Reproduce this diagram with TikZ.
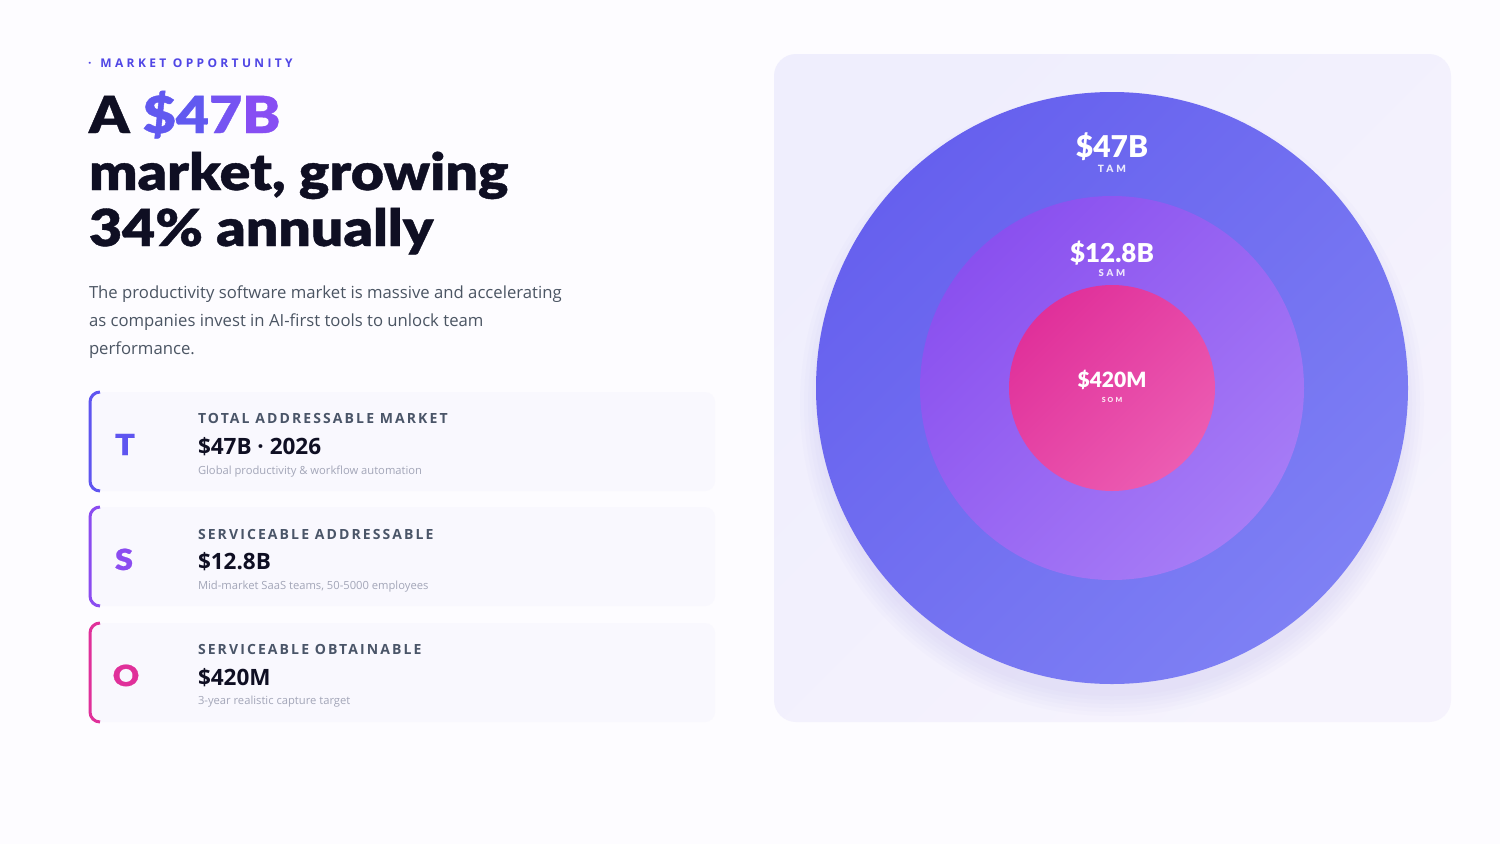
\documentclass[tikz,border=0pt]{standalone}
\usepackage{fontspec}
\usepackage{tikz}
\setmainfont{Open Sans}
\newfontfamily\heavyfont{Lato Black}
\newfontfamily\headfont{Lato Black}[FakeStretch=1.12,FakeBold=0.8]
\newfontfamily\spacedfont{Open Sans}[LetterSpace=15]
\newfontfamily\eyebrowfont{Open Sans}[LetterSpace=28]
\newfontfamily\tagfont{Lato Black}[LetterSpace=30]
\definecolor{pagebg}{HTML}{FDFCFF}
\definecolor{accent}{HTML}{5046E5}
\definecolor{ink}{HTML}{0F0F23}
\definecolor{paragray}{HTML}{4B5563}
\definecolor{slate}{HTML}{4A5568}
\definecolor{notegray}{HTML}{A3A6B8}
\definecolor{cardbg}{HTML}{F9F8FE}
\definecolor{panelA}{HTML}{EFEEFD}
\definecolor{panelB}{HTML}{F6F3FD}
\definecolor{glow}{HTML}{B9B0F5}
\definecolor{tamA}{HTML}{6660EE}
\definecolor{tamB}{HTML}{7E80F4}
\definecolor{samA}{HTML}{8A50EF}
\definecolor{samB}{HTML}{A67CF6}
\definecolor{somA}{HTML}{E0309A}
\definecolor{somB}{HTML}{EC5CB2}
\definecolor{tcol}{HTML}{5F55F0}
\definecolor{scol}{HTML}{8B4CF0}
\definecolor{ocol}{HTML}{E0309A}
\newcommand{\cardwidth}{625}

\begin{document}
\begin{tikzpicture}[x=1pt,y=-1pt,
  every node/.style={inner sep=0pt,outer sep=0pt},
  eyebrow/.style={anchor=base west,text=accent,font=\eyebrowfont\bfseries\fontsize{12}{12}\selectfont},
  headline/.style={anchor=base west,text=ink,font=\headfont\fontsize{51}{56}\selectfont},
  para/.style={anchor=base west,text=paragray,font=\fontsize{16.7}{28}\selectfont},
  card/.style={anchor=north west,fill=cardbg,rounded corners=10pt,minimum width=\cardwidth pt,minimum height=99pt},
  cardletter/.style={anchor=base,font=\headfont\fontsize{29}{30}\selectfont},
  cardtitle/.style={anchor=base west,text=slate,font=\spacedfont\bfseries\fontsize{14}{14}\selectfont},
  cardvalue/.style={anchor=base west,text=ink,font=\bfseries\fontsize{22.5}{22}\selectfont},
  cardnote/.style={anchor=base west,text=notegray,font=\fontsize{11.2}{12}\selectfont},
  ring/.style={circle,minimum size=#1},
  ringval/.style={anchor=base,text=white,font=\heavyfont\fontsize{#1}{#1}\selectfont},
  ringtag/.style={anchor=base,text=white,text opacity=0.85,font=\tagfont\fontsize{#1}{#1}\selectfont}]
\useasboundingbox (0,0) rectangle (1500,844);
\fill[pagebg] (0,0) rectangle (1500,844);

\node[eyebrow] (kicker) at (88,67) {·\hspace{9pt}MARKET OPPORTUNITY};
\node[headline] (head1) at (89,133) {A \textcolor[HTML]{6159F0}{\$4}\textcolor[HTML]{7553F2}{7}\textcolor[HTML]{874EF3}{B}};
\node[headline] (head2) at (89,190) {market, growing};
\node[headline] (head3) at (89,246) {34\% annually};
\node[para] (para1) at (89,298) {The productivity software market is massive and accelerating};
\node[para] (para2) at (89,326) {as companies invest in AI-first tools to unlock team};
\node[para] (para3) at (89,354) {performance.};

\node[card] (tcard) at (90,392) {};
\node[card] (scard) at (90,507) {};
\node[card] (ocard) at (90,623) {};
\draw[tcol,line width=3pt] ([xshift=10pt]tcard.north west) arc[start angle=90,end angle=180,radius=10pt] -- ([yshift=10pt]tcard.south west) arc[start angle=180,end angle=270,radius=10pt];
\draw[scol,line width=3pt] ([xshift=10pt]scard.north west) arc[start angle=90,end angle=180,radius=10pt] -- ([yshift=10pt]scard.south west) arc[start angle=180,end angle=270,radius=10pt];
\draw[ocol,line width=3pt] ([xshift=10pt]ocard.north west) arc[start angle=90,end angle=180,radius=10pt] -- ([yshift=10pt]ocard.south west) arc[start angle=180,end angle=270,radius=10pt];

\node[cardletter,text=tcol] (tletter) at (125,455) {T};
\node[cardletter,text=scol] (sletter) at (124,570) {S};
\node[cardletter,text=ocol] (oletter) at (126,686) {O};
\node[cardtitle] (ttitle) at (198,423) {TOTAL ADDRESSABLE MARKET};
\node[cardvalue] (tvalue) at (198,454) {\$47B · 2026};
\node[cardnote] (tnote) at (198,474) {Global productivity \& workflow automation};
\node[cardtitle] (stitle) at (198,539) {SERVICEABLE ADDRESSABLE};
\node[cardvalue] (svalue) at (198,569) {\$12.8B};
\node[cardnote] (snote) at (198,589) {Mid-market SaaS teams, 50-5000 employees};
\node[cardtitle] (otitle) at (198,654) {SERVICEABLE OBTAINABLE};
\node[cardvalue] (ovalue) at (198,685) {\$420M};
\node[cardnote] (onote) at (198,704) {3-year realistic capture target};

\node[anchor=north west,rounded corners=22pt,minimum width=677pt,minimum height=668pt,
  top color=panelA,bottom color=panelB,shading angle=45] (panel) at (774,54) {};
\foreach \k in {1,...,6}
  \fill[glow,opacity=0.045] (1112,404) circle[radius=288pt+4pt*\k];
\node[ring=592pt,top color=tamA,bottom color=tamB,shading angle=45] (tam) at (1112,388) {};
\node[ring=384pt,top color=samA,bottom color=samB,shading angle=45] (sam) at (1112,388) {};
\node[ring=206pt,top color=somA,bottom color=somB,shading angle=45] (som) at (1112,388) {};

\node[ringval=30] (tamval) at (1112,157) {\$47B};
\node[ringtag=10] (tamtag) at (1112,172) {TAM};
\node[ringval=26] (samval) at (1112,262) {\$12.8B};
\node[ringtag=9.5] (samtag) at (1112,276) {SAM};
\node[ringval=21] (somval) at (1112,387) {\$420M};
\node[ringtag=7] (somtag) at (1112,402) {SOM};
\end{tikzpicture}
\end{document}
